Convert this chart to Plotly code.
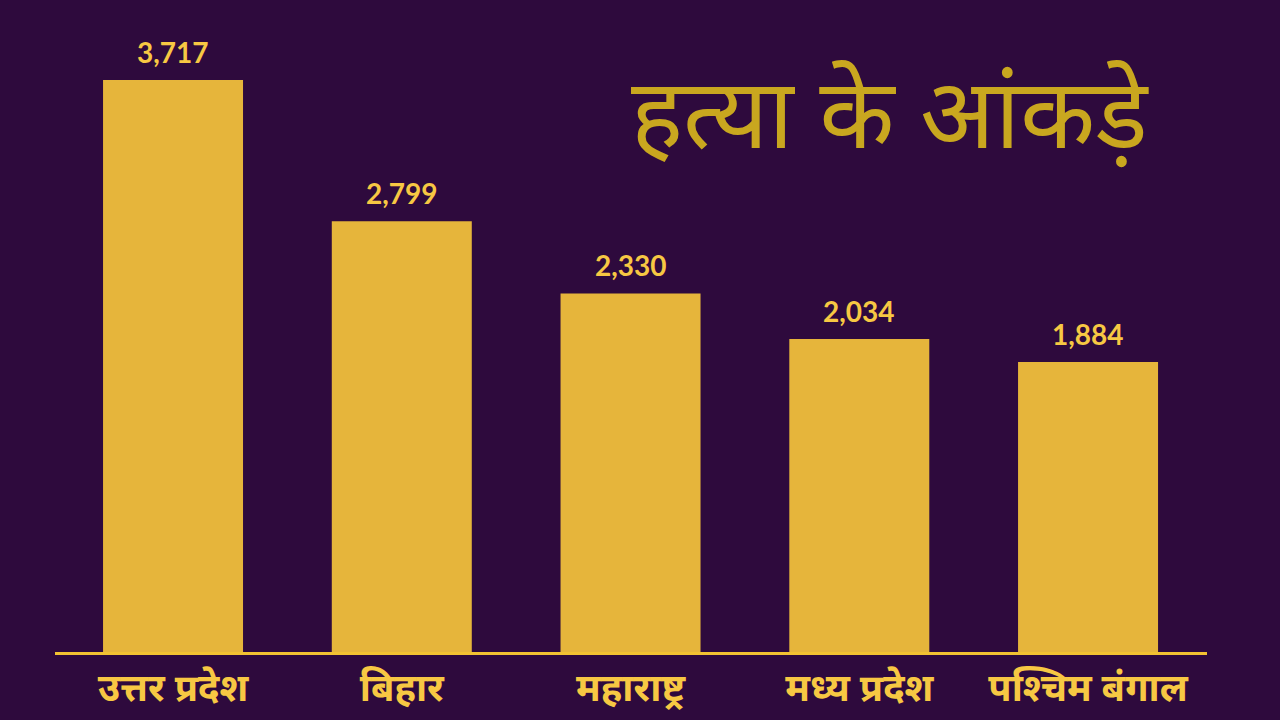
import plotly.graph_objects as go

states = ["उत्तर प्रदेश", "बिहार", "महाराष्ट्र", "मध्य प्रदेश", "पश्चिम बंगाल"]
murders = [3717, 2799, 2330, 2034, 1884]
value_labels = ["3,717", "2,799", "2,330", "2,034", "1,884"]
title_text = "हत्या के आंकड़े"

BG = "#2E0A3D"
BAR = "#E6B53B"
LABEL = "#F7C843"

fig = go.Figure(
    go.Bar(
        x=list(range(len(states))),
        y=murders,
        marker=dict(color=BAR, line=dict(width=0)),
        hoverinfo="skip",
    )
)

annotations = [
    dict(
        x=i, y=v, xref="x", yref="y",
        text=lbl, showarrow=False,
        xanchor="center", yanchor="bottom", yshift=9,
        font=dict(size=28, color=LABEL, family="Lato, Noto Sans, sans-serif", weight="bold"),
    )
    for i, (v, lbl) in enumerate(zip(murders, value_labels))
]
annotations.append(
    dict(
        text=title_text,
        xref="paper", yref="paper",
        x=0.725, y=0.885,
        xanchor="center", yanchor="middle",
        showarrow=False,
        font=dict(size=98, color="#C9A71F"),
    )
)

fig.update_layout(
    width=1280,
    height=720,
    paper_bgcolor=BG,
    plot_bgcolor=BG,
    margin=dict(l=55, r=73, t=40, b=68, autoexpand=False),
    bargap=0.388,
    showlegend=False,
    font=dict(family="Noto Sans, sans-serif"),
    annotations=annotations,
)
fig.update_xaxes(
    range=[-0.516, 4.52],
    tickmode="array",
    tickvals=list(range(len(states))),
    ticktext=states,
    tickfont=dict(size=38, color=LABEL, weight="bold"),
    showgrid=False,
    zeroline=False,
    showline=True,
    linecolor="#F2C232",
    linewidth=3,
    ticks="",
    ticklabelstandoff=0,
    automargin=False,
)
fig.update_yaxes(
    range=[0, 3977],
    visible=False,
    showgrid=False,
    zeroline=False,
    automargin=False,
)

fig.write_html("out.html")
